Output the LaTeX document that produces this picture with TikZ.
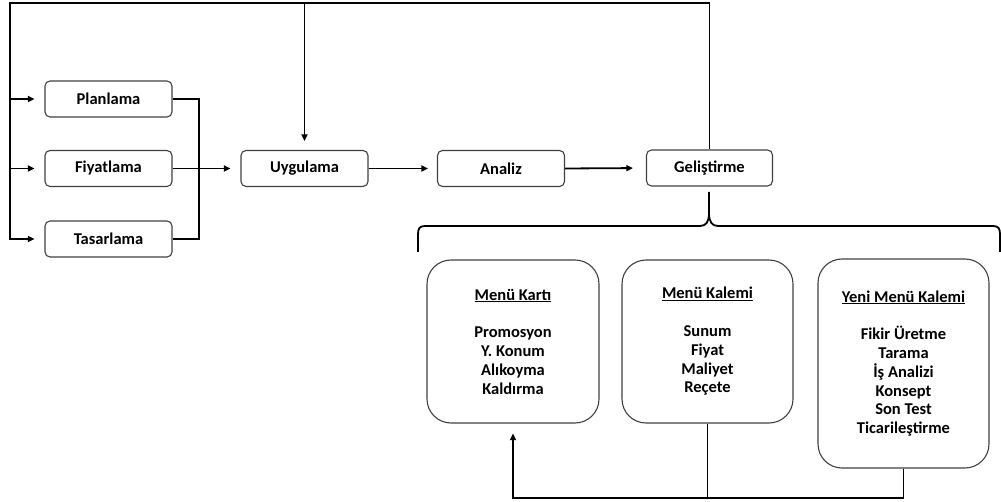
\documentclass[tikz,border=0pt]{standalone}
\usepackage{fontspec}
\setmainfont{Carlito}
\usetikzlibrary{arrows.meta}
\tikzset{
  smallbox/.style={draw=black!75, line width=1.1pt, rounded corners=5pt, minimum width=127pt, minimum height=36pt, inner sep=0pt, font=\fontsize{16.5}{18}\selectfont\bfseries},
  bigbox/.style={draw=black!75, line width=1.1pt, rounded corners=24pt, minimum width=172pt, inner sep=0pt, align=center, font=\fontsize{16.5}{18.8}\selectfont\bfseries},
  conn/.style={line width=1.8pt, black},
  arr/.style={conn, -{Triangle[length=6.5pt,width=6pt]}},
}
\begin{document}
\begin{tikzpicture}[x=1pt, y=-1pt]
\useasboundingbox (0,0) rectangle (1001,502);
% small boxes
\node[smallbox] (plan) at (108.5,99) {Planlama};
\node[smallbox] (fiyat) at (108.5,168.5) {Fiyatlama};
\node[smallbox] (tasar) at (108.5,239) {Tasarlama};
\node[smallbox] (uyg) at (304.5,168.5) {Uygulama};
\node[smallbox] (analiz) at (501,168.5) {Analiz};
\node[smallbox, minimum width=126pt] (gelis) at (709.5,168) {Geliştirme};
% big boxes
\node[bigbox, minimum height=163pt] (kart) at (513,341.5)
  {\underline{Menü Kartı}\\[18.8pt]Promosyon\\Y. Konum\\Alıkoyma\\Kaldırma};
\node[bigbox, minimum width=171pt, minimum height=163pt] (kalem) at (707.5,341.5)
  {\underline{Menü Kalemi}\\[18.8pt]Sunum\\Fiyat\\Maliyet\\Reçete};
\node[bigbox, minimum width=171pt, minimum height=209pt] (yeni) at (903.5,363.5)
  {\underline{Yeni Menü Kalemi}\\[18.8pt]Fikir Üretme\\Tarama\\İş Analizi\\Konsept\\Son Test\\Ticarileştirme};
% coordinates
\coordinate (tl) at (10,3);
\coordinate (mx) at (199,0);
\coordinate (by) at (0,498);
% top feedback loop
\draw[arr, shorten >=10pt] (gelis.north) |- (tl) |- (tasar.west);
\draw[arr, shorten >=10pt] (tl |- plan.west) -- (plan.west);
\draw[arr, shorten >=10pt] (tl |- fiyat.west) -- (fiyat.west);
\draw[arr, shorten >=9pt] (uyg.north |- tl) -- (uyg.north);
% merge of Planlama and Tasarlama
\draw[conn] (plan.east) -| (mx |- tasar.east) -- (tasar.east);
% main flow
\draw[arr, shorten >=10pt] (fiyat.east) -- (uyg.west);
\draw[arr, shorten >=9pt] (uyg.east) -- (analiz.west);
\draw[arr, shorten >=13pt] (analiz.east) -- (gelis.west);
% brace
\draw[conn] (709,192) -- (709,213)
  .. controls (709,222) and (706,226) .. (700,226) -- (425,226)
  .. controls (419,226) and (418,229) .. (418,235) -- (418,252);
\draw[conn] (709,213)
  .. controls (709,222) and (712,226) .. (718,226) -- (993,226)
  .. controls (999,226) and (1000,229) .. (1000,235) -- (1000,252);
% bottom feedback
\draw[arr, shorten >=10pt] (yeni.south) |- (kart.south |- by) -- (kart.south);
\draw[conn] (kalem.south) -- (kalem.south |- by);
\end{tikzpicture}
\end{document}
